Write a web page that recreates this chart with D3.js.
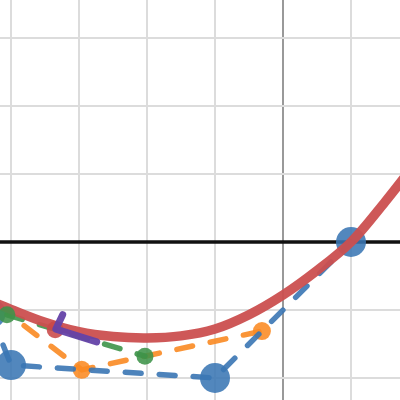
<!DOCTYPE html>
<html>
<head>
<meta charset="utf-8">
<script src="https://cdn.jsdelivr.net/npm/d3@7"></script>
<style>
  html, body { margin: 0; padding: 0; background: #fff; }
</style>
</head>
<body>
<div id="svgContainer"></div>
<script>
// values, in grid units
var gridX = [-4, -3, -2, -1, 0, 1];
var gridY = [-2, -1, 0, 1, 2, 3];

var curveX = [-4.4, -4, -3.5, -3, -2.5, -2, -1.5, -1, -0.5, 0, 0.5, 1, 1.5, 1.9];
var curveY = [-0.83, -0.99, -1.18, -1.32, -1.39, -1.41, -1.38, -1.28, -1.07, -0.78, -0.42, 0, 0.59, 1.10];

var blueX = [-4.3, -4.0, -1.0, 1.0];
var blueY = [-1.05, -1.81, -2.0, 0.0];

var orangeX = [-4.6, -2.96, -0.31];
var orangeY = [-0.62, -1.88, -1.31];

var greenX = [-4.06, -2.03];
var greenY = [-1.07, -1.68];

var redX = [-3.35];
var redY = [-1.29];

var purpleX = [-3.24, -3.34, -2.74];
var purpleY = [-1.07, -1.28, -1.47];

var width = 400,
    height = 400;

var x = d3.scaleLinear().domain([-283 / 68, 117 / 68]).range([0, width]);
var y = d3.scaleLinear().domain([-158 / 68, 242 / 68]).range([height, 0]);

var pts = (xs, ys) => xs.map((v, i) => [v, ys[i]]);

var svg = d3.select("#svgContainer").append("svg")
    .attr("width", width)
    .attr("height", height)
    .style("display", "block");

// grid
svg.append("g")
    .selectAll("line")
    .data(gridX)
    .enter().append("line")
    .attr("x1", d => x(d)).attr("x2", d => x(d))
    .attr("y1", 0).attr("y2", height)
    .attr("stroke", d => d === 0 ? "#999" : "#dcdcdc")
    .attr("stroke-width", 2);

svg.append("g")
    .selectAll("line")
    .data(gridY)
    .enter().append("line")
    .attr("x1", 0).attr("x2", width)
    .attr("y1", d => y(d)).attr("y2", d => y(d))
    .attr("stroke", d => d === 0 ? "#111" : "#dcdcdc")
    .attr("stroke-width", d => d === 0 ? 3.5 : 2);

var line = d3.line().x(d => x(d[0])).y(d => y(d[1]));

dashes = (xs, ys, color) => {
    svg.append("path")
        .datum(pts(xs, ys))
        .attr("d", line)
        .attr("fill", "none")
        .attr("stroke", color)
        .attr("stroke-width", 5.5)
        .attr("stroke-linecap", "round")
        .attr("stroke-dasharray", "16,18")
        .attr("opacity", 0.9);
};

dots = (xs, ys, color, r) => {
    svg.append("g")
        .selectAll("circle")
        .data(pts(xs, ys))
        .enter().append("circle")
        .attr("cx", d => x(d[0]))
        .attr("cy", d => y(d[1]))
        .attr("r", r)
        .attr("fill", color)
        .attr("opacity", 0.88);
};

dashes(orangeX, orangeY, "#fa8a22");
dots(orangeX, orangeY, "#fa8a22", 9);
dashes(blueX, blueY, "#3a76b4");
dots(blueX, blueY, "#3a76b4", 15);
dashes(greenX, greenY, "#3d9349");

// red curve
svg.append("path")
    .datum(pts(curveX, curveY))
    .attr("d", line.curve(d3.curveCatmullRom))
    .attr("fill", "none")
    .attr("stroke", "#cb4f4f")
    .attr("stroke-width", 9.5)
    .attr("opacity", 0.95);
line.curve(d3.curveLinear);

dots(greenX, greenY, "#3d9349", 8.5);
dots(redX, redY, "#c94848", 8.5);

svg.append("path")
    .datum(pts(purpleX, purpleY))
    .attr("d", line)
    .attr("fill", "none")
    .attr("stroke", "#6442a8")
    .attr("stroke-width", 7)
    .attr("stroke-linecap", "round")
    .attr("stroke-linejoin", "round")
    .attr("opacity", 0.95);
</script>
</body>
</html>
